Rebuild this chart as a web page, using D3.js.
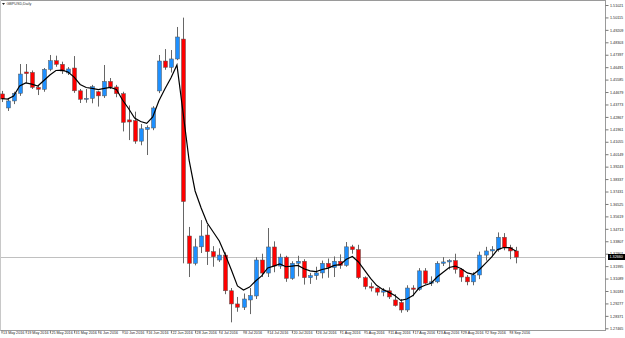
<!DOCTYPE html>
<html><head><meta charset="utf-8">
<script src="https://cdn.jsdelivr.net/npm/d3@7"></script>
<style>html,body{margin:0;padding:0;background:#fff;}svg{display:block;}</style>
</head><body>
<svg id="c" width="625" height="338"></svg>
<script>
const title = "GBPUSD,Daily";
const dates = ["2016-05-13","2016-05-16","2016-05-17","2016-05-18","2016-05-19","2016-05-20","2016-05-23","2016-05-24","2016-05-25","2016-05-26","2016-05-27","2016-05-30","2016-05-31","2016-06-01","2016-06-02","2016-06-03","2016-06-06","2016-06-07","2016-06-08","2016-06-09","2016-06-10","2016-06-13","2016-06-14","2016-06-15","2016-06-16","2016-06-17","2016-06-20","2016-06-21","2016-06-22","2016-06-23","2016-06-24","2016-06-27","2016-06-28","2016-06-29","2016-06-30","2016-07-01","2016-07-04","2016-07-05","2016-07-06","2016-07-07","2016-07-08","2016-07-11","2016-07-12","2016-07-13","2016-07-14","2016-07-15","2016-07-18","2016-07-19","2016-07-20","2016-07-21","2016-07-22","2016-07-25","2016-07-26","2016-07-27","2016-07-28","2016-07-29","2016-08-01","2016-08-02","2016-08-03","2016-08-04","2016-08-05","2016-08-08","2016-08-09","2016-08-10","2016-08-11","2016-08-12","2016-08-15","2016-08-16","2016-08-17","2016-08-18","2016-08-19","2016-08-22","2016-08-23","2016-08-24","2016-08-25","2016-08-26","2016-08-29","2016-08-30","2016-08-31","2016-09-01","2016-09-02","2016-09-05","2016-09-06","2016-09-07","2016-09-08","2016-09-09"];
const open = [1.4454,1.4352,1.4403,1.4459,1.4614,1.4611,1.4502,1.4488,1.4633,1.4696,1.4670,1.4607,1.4643,1.4477,1.4415,1.4422,1.4470,1.4440,1.4545,1.4505,1.4456,1.4265,1.4260,1.4110,1.4195,1.4206,1.4476,1.4694,1.4648,1.4709,1.4854,1.3419,1.3220,1.3340,1.3426,1.3305,1.3244,1.3280,1.3020,1.2924,1.2900,1.2953,1.2982,1.3244,1.3149,1.3339,1.3200,1.3265,1.3110,1.3220,1.3235,1.3115,1.3130,1.3150,1.3220,1.3190,1.3235,1.3205,1.3340,1.3320,1.3115,1.3050,1.3040,1.3010,1.3020,1.2953,1.2935,1.2880,1.3040,1.3030,1.3165,1.3075,1.3085,1.3220,1.3230,1.3240,1.3175,1.3120,1.3085,1.3135,1.3280,1.3310,1.3320,1.3410,1.3335,1.3310];
const high = [1.4476,1.4420,1.4470,1.4672,1.4672,1.4625,1.4519,1.4643,1.4738,1.4733,1.4689,1.4650,1.4730,1.4490,1.4490,1.4520,1.4476,1.4665,1.4570,1.4520,1.4470,1.4370,1.4325,1.4235,1.4225,1.4365,1.4738,1.4781,1.4774,1.4942,1.5010,1.3485,1.3400,1.3535,1.3499,1.3345,1.3329,1.3300,1.3040,1.2975,1.3000,1.3040,1.3265,1.3290,1.3477,1.3380,1.3290,1.3275,1.3235,1.3275,1.3250,1.3150,1.3195,1.3240,1.3255,1.3270,1.3285,1.3375,1.3355,1.3355,1.3125,1.3080,1.3045,1.3040,1.3045,1.2995,1.2960,1.3060,1.3060,1.3185,1.3185,1.3125,1.3235,1.3265,1.3250,1.3290,1.3185,1.3135,1.3155,1.3305,1.3340,1.3345,1.3445,1.3440,1.3355,1.3340];
const low = [1.4395,1.4330,1.4380,1.4440,1.4534,1.4490,1.4446,1.4470,1.4620,1.4652,1.4600,1.4592,1.4462,1.4388,1.4390,1.4386,1.4362,1.4425,1.4490,1.4430,1.4181,1.4118,1.4091,1.4080,1.4009,1.4190,1.4460,1.4630,1.4610,1.4700,1.3220,1.3120,1.3205,1.3295,1.3208,1.3195,1.3230,1.2995,1.2790,1.2867,1.2880,1.2850,1.2960,1.3120,1.3120,1.3155,1.3180,1.3085,1.3100,1.3125,1.3065,1.3070,1.3100,1.3110,1.3115,1.3120,1.3180,1.3195,1.3290,1.3105,1.3030,1.3015,1.2985,1.2980,1.2960,1.2905,1.2860,1.2865,1.2980,1.3020,1.3065,1.3055,1.3075,1.3200,1.3175,1.3145,1.3085,1.3060,1.3060,1.3105,1.3240,1.3270,1.3305,1.3315,1.3250,1.3220];
const close = [1.4417,1.4403,1.4459,1.4599,1.4602,1.4502,1.4488,1.4633,1.4696,1.4670,1.4621,1.4636,1.4477,1.4415,1.4422,1.4507,1.4440,1.4545,1.4505,1.4456,1.4247,1.4250,1.4110,1.4200,1.4210,1.4352,1.4694,1.4648,1.4709,1.4869,1.3670,1.3220,1.3340,1.3419,1.3305,1.3268,1.3280,1.3020,1.2924,1.2900,1.2960,1.2985,1.3244,1.3149,1.3339,1.3200,1.3265,1.3110,1.3220,1.3235,1.3115,1.3130,1.3150,1.3220,1.3190,1.3235,1.3205,1.3340,1.3320,1.3115,1.3050,1.3040,1.3010,1.3020,1.2975,1.2912,1.2880,1.3040,1.3030,1.3165,1.3075,1.3085,1.3220,1.3230,1.3240,1.3175,1.3120,1.3085,1.3135,1.3280,1.3310,1.3320,1.3410,1.3335,1.3310,1.3265];
const ma = [1.4421,1.4417,1.4439,1.4512,1.4534,1.4526,1.4512,1.4552,1.4592,1.4625,1.4628,1.4614,1.4577,1.4523,1.4501,1.4494,1.4486,1.4495,1.4502,1.4486,1.4410,1.4348,1.4279,1.4253,1.4240,1.4286,1.4403,1.4490,1.4570,1.4665,1.4322,1.3973,1.3747,1.3623,1.3514,1.3448,1.3383,1.3280,1.3171,1.3055,1.3026,1.3047,1.3091,1.3128,1.3186,1.3200,1.3215,1.3195,1.3200,1.3205,1.3180,1.3165,1.3160,1.3175,1.3185,1.3205,1.3210,1.3250,1.3270,1.3230,1.3170,1.3110,1.3060,1.3030,1.3010,1.2985,1.2950,1.2960,1.2985,1.3040,1.3060,1.3075,1.3120,1.3155,1.3190,1.3200,1.3180,1.3150,1.3140,1.3175,1.3220,1.3265,1.3320,1.3335,1.3335,1.3310];
const priceTicks = ["1.51021","1.50115","1.49209","1.48303","1.47397","1.46491","1.45585","1.44679","1.43773","1.42867","1.41961","1.41055","1.40149","1.39243","1.38337","1.37431","1.36525","1.35619","1.34713","1.33807","1.32901","1.31995","1.31089","1.30183","1.29277","1.28371","1.27465"];
const lastPrice = "1.32660";
const dateLabelEvery = 4;

const svg = d3.select("#c");
const W = 625, H = 338;
const plotR = 605.5, plotB = 330.5;

const tickVals = priceTicks.map(Number);
const y = d3.scaleLinear().domain([d3.min(tickVals), d3.max(tickVals)]).range([328.3, 5]);
const x = d3.scalePoint().domain(dates).range([1.5, 515.75]);
const parse = d3.timeParse("%Y-%m-%d");
const fmt = d3.timeFormat("%-d %b %Y");

// frame
svg.append("rect").attr("x",0.5).attr("y",0.5).attr("width",plotR-0.5).attr("height",plotB-0.5)
  .attr("fill","#fff").attr("stroke","#9a9a9a").attr("stroke-width",1);
svg.append("line").attr("x1",0).attr("x2",0).attr("y1",0).attr("y2",plotB).attr("stroke","#c8c8c8").attr("stroke-width",2);

// price axis
const ay = d3.axisRight(y).tickValues(tickVals).tickSize(3).tickPadding(1.5).tickFormat((d,i)=>priceTicks[i]);
const gy = svg.append("g").attr("transform",`translate(${plotR},0)`).call(ay);
gy.select(".domain").remove();
gy.selectAll(".tick line").attr("stroke","#777");
gy.selectAll(".tick text").attr("font-family","Liberation Sans, Arial, sans-serif").attr("font-size","3.7px").attr("fill","#222");

// date axis
const dateTicks = dates.filter((d,i)=>i%dateLabelEvery===0);
const ax = d3.axisBottom(x).tickValues(dateTicks).tickSize(3).tickFormat(d=>fmt(parse(d)));
const gx = svg.append("g").attr("transform",`translate(0,${plotB})`).call(ax);
gx.select(".domain").remove();
gx.selectAll(".tick line").attr("stroke","#777");
gx.selectAll(".tick text").attr("font-family","Liberation Sans, Arial, sans-serif").attr("font-size","3.7px").attr("fill","#222")
  .attr("text-anchor","start").attr("x",1).attr("dy","0.2em").attr("y",2.5);

// current price line
const lp = Number(lastPrice);
svg.append("line").attr("x1",1).attr("x2",plotR).attr("y1",Math.round(y(lp))+0.5).attr("y2",Math.round(y(lp))+0.5)
  .attr("stroke","#c0c0c0").attr("stroke-width",1);

// candles
const n = dates.length;
const idx = d3.range(n);
const g = svg.append("g");
g.selectAll("line.wick").data(idx).join("line").attr("class","wick")
  .attr("x1",i=>Math.round(x(dates[i]))+0.5).attr("x2",i=>Math.round(x(dates[i]))+0.5)
  .attr("y1",i=>y(high[i])).attr("y2",i=>y(low[i]))
  .attr("stroke","#666").attr("stroke-width",1);
g.selectAll("rect.body").data(idx).join("rect").attr("class","body")
  .attr("x",i=>Math.round(x(dates[i]))-1.5).attr("width",4)
  .attr("y",i=>y(Math.max(open[i],close[i])))
  .attr("height",i=>Math.max(1,Math.abs(y(open[i])-y(close[i]))))
  .attr("fill",i=>close[i]>=open[i]?"#1e90ff":"#ff0000")
  .attr("stroke","#555").attr("stroke-width",0.5);

// moving average
const line = d3.line().x((d,i)=>x(dates[i])).y(d=>y(d)).curve(d3.curveLinear);
svg.append("path").datum(ma).attr("d",line).attr("fill","none").attr("stroke","#000").attr("stroke-width",1.2);

// last price label
const lpy = y(lp);
svg.append("rect").attr("x",608).attr("y",lpy-3).attr("width",17).attr("height",6).attr("fill","#000");
svg.append("text").attr("x",609.5).attr("y",lpy).attr("dy","0.35em").attr("font-family","Liberation Sans, Arial, sans-serif")
  .attr("font-size","3.7px").attr("fill","#fff").text(lastPrice);

// title
svg.append("path").attr("d","M2,3 L5,3 L3.5,5 Z").attr("fill","#222");
svg.append("text").attr("x",6.5).attr("y",4).attr("dy","0.35em").attr("font-family","Liberation Sans, Arial, sans-serif")
  .attr("font-size","3.7px").attr("fill","#333").text(title);
</script>
</body></html>
